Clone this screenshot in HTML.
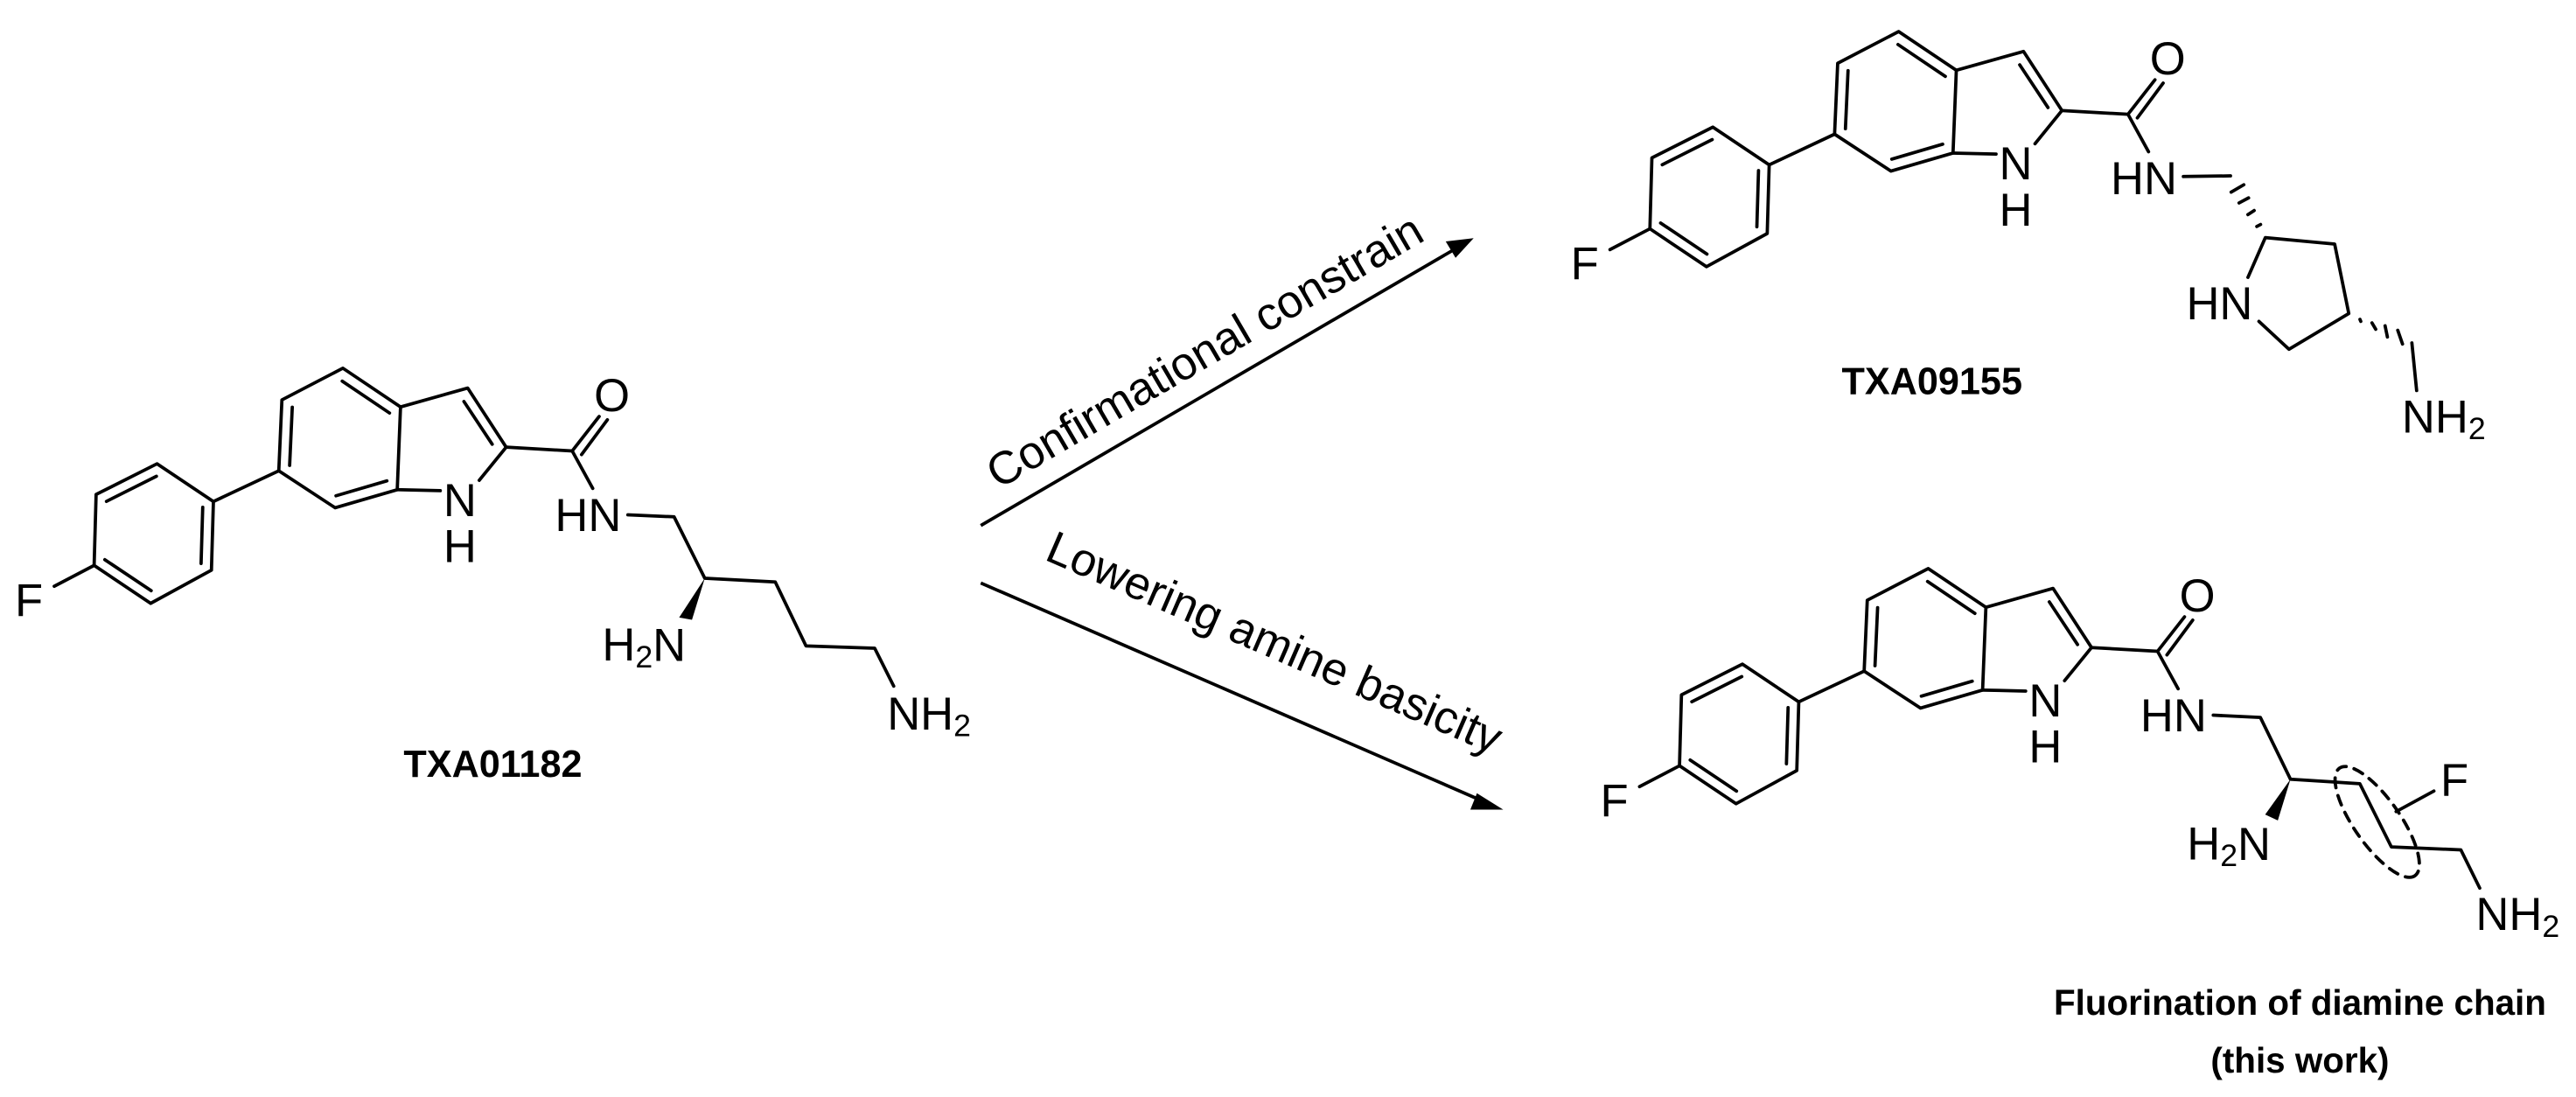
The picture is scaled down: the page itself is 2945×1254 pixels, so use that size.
<!DOCTYPE html>
<html><head><meta charset="utf-8"><style>
html,body{margin:0;padding:0;background:#fff;}
svg{display:block;}
text{font-family:"Liberation Sans",Arial,sans-serif;fill:#000;}
.a{font-size:28px;}
.b{font-size:23px;font-weight:bold;}
.c{font-size:21.5px;font-weight:bold;}
.l{font-size:28px;}
</style></head><body>
<svg width="2945" height="1254" viewBox="0 0 1568 668" preserveAspectRatio="none" xmlns="http://www.w3.org/2000/svg">
<defs>
<g id="core" fill="none" stroke="#000" stroke-width="2" stroke-linecap="round" stroke-linejoin="round">
<polygon points="57.3,344.3 58.5,301.1 95.6,282.4 129.9,305.4 128.7,347.2 91.7,367.4"/>
<line x1="64.8" y1="305.3" x2="95.2" y2="290.0"/>
<line x1="123.4" y1="308.9" x2="122.4" y2="343.1"/>
<line x1="63.8" y1="340.8" x2="92.0" y2="359.7"/>
<line x1="33" y1="357" x2="57.3" y2="344.3"/>
<line x1="129.9" y1="305.4" x2="169.7" y2="286.7"/>
<polygon points="169.7,286.7 171.6,243.5 208.7,224.2 243.8,247.8 241.8,298.2 204,309.2"/>
<line x1="177.9" y1="248.0" x2="176.3" y2="283.4"/>
<line x1="208.3" y1="232.1" x2="237.1" y2="251.5"/>
<line x1="235.5" y1="292.8" x2="204.5" y2="301.9"/>
<polyline points="243.8,247.8 284.7,236.3 308.1,272.3 291.7,292.5"/>
<line x1="282.4" y1="244.5" x2="299.6" y2="270.5"/>
<line x1="268" y1="298.8" x2="241.8" y2="298.2"/>
<line x1="308.1" y1="272.3" x2="348.3" y2="274.6"/>
<line x1="348.3" y1="274.6" x2="364.7" y2="253.6"/>
<line x1="354" y1="276.8" x2="369.7" y2="255.6"/>
<line x1="348.3" y1="274.6" x2="360.8" y2="297.4"/>
</g>
</defs>

<!-- Left molecule -->
<use href="#core"/>
<g fill="none" stroke="#000" stroke-width="2" stroke-linecap="round" stroke-linejoin="round">
<polyline points="382.2,313.5 410.3,314.7 429,352.1 471.9,354.4 490.6,393.3 532.4,394.7 544,417.8"/>
</g>
<polygon points="429,352.1 413.4,376 421.2,377.4" fill="#000"/>
<g class="a" text-anchor="middle" dominant-baseline="central">
<text x="17.6" y="366">F</text>
<text x="280" y="305">N</text>
<text x="280" y="333">H</text>
<text x="372.5" y="241">O</text>
<text x="358" y="314">HN</text>
<text x="392" y="393">H<tspan font-size="19" dy="7">2</tspan><tspan dy="-7">N</tspan></text>
<text x="540" y="435" text-anchor="start">NH<tspan font-size="19" dy="7">2</tspan></text>
</g>
<text class="b" x="300" y="473" text-anchor="middle">TXA01182</text>

<!-- Arrows -->
<g stroke="#000" stroke-width="2">
<line x1="597" y1="320" x2="885" y2="152"/>
<line x1="597" y1="355" x2="903" y2="488"/>
</g>
<polygon points="897,145 880,147 886,157" fill="#000"/>
<polygon points="915,493 899,483 895,493" fill="#000"/>
<text class="l" x="0" y="0" text-anchor="middle" transform="translate(738,222) rotate(-30.3)">Confirmational constrain</text>
<text class="l" x="0" y="0" text-anchor="middle" transform="translate(772,400) rotate(23.5)">Lowering amine basicity</text>

<!-- Top right molecule -->
<use href="#core" transform="translate(947,-205)"/>
<g fill="none" stroke="#000" stroke-width="2" stroke-linecap="round" stroke-linejoin="round">
<line x1="1329" y1="107.5" x2="1357.7" y2="107.1"/>
<polyline points="1368.3,168.9 1378.9,144.7 1421.1,148.6 1429.7,190.9 1393.3,212.7 1375,195.7"/>
<line x1="1358.1" y1="117.0" x2="1365.8" y2="112.5"/>
<line x1="1362.9" y1="123.6" x2="1368.7" y2="120.5"/>
<line x1="1368.3" y1="130.7" x2="1372.1" y2="128.2"/>
<line x1="1373.7" y1="137.9" x2="1376" y2="136.7"/>
<line x1="1436.5" y1="194.5" x2="1437" y2="195.7"/>
<line x1="1443.8" y1="196.6" x2="1446.1" y2="200.5"/>
<line x1="1451.8" y1="198.4" x2="1453.2" y2="205.2"/>
<line x1="1459.5" y1="201.1" x2="1462.4" y2="209.5"/>
<line x1="1468.1" y1="208.8" x2="1471" y2="237.8"/>
</g>
<g class="a" text-anchor="middle" dominant-baseline="central">
<text x="964.6" y="161">F</text>
<text x="1227" y="100">N</text>
<text x="1227" y="128">H</text>
<text x="1319.5" y="36">O</text>
<text x="1305" y="109">HN</text>
<text x="1351" y="185">HN</text>
<text x="1462" y="254" text-anchor="start">NH<tspan font-size="19" dy="7">2</tspan></text>
</g>
<text class="b" x="1176" y="240" text-anchor="middle">TXA09155</text>

<!-- Bottom right molecule -->
<use href="#core" transform="translate(965,122)"/>
<g fill="none" stroke="#000" stroke-width="2" stroke-linecap="round" stroke-linejoin="round">
<polyline points="1347.2,435.5 1375.9,436.9 1394.2,474.5 1436.4,477.2 1455.6,515.7 1497.9,517.5 1509.4,540.8"/>
<line x1="1458.5" y1="494.2" x2="1481.5" y2="481.7"/>
<ellipse cx="1447" cy="500.5" rx="40" ry="14" transform="rotate(55 1447 500.5)" stroke-dasharray="6,5"/>
</g>
<polygon points="1394.2,474.5 1378.8,496 1386.5,499.6" fill="#000"/>
<g class="a" text-anchor="middle" dominant-baseline="central">
<text x="982.6" y="488">F</text>
<text x="1245" y="427">N</text>
<text x="1245" y="455">H</text>
<text x="1337.5" y="363">O</text>
<text x="1323" y="436">HN</text>
<text x="1356.7" y="514">H<tspan font-size="19" dy="7">2</tspan><tspan dy="-7">N</tspan></text>
<text x="1494" y="475.4">F</text>
<text x="1507" y="557" text-anchor="start">NH<tspan font-size="19" dy="7">2</tspan></text>
</g>
<text class="c" x="1400" y="618" text-anchor="middle">Fluorination of diamine chain</text>
<text class="c" x="1400" y="653" text-anchor="middle">(this work)</text>
</svg>
</body></html>
